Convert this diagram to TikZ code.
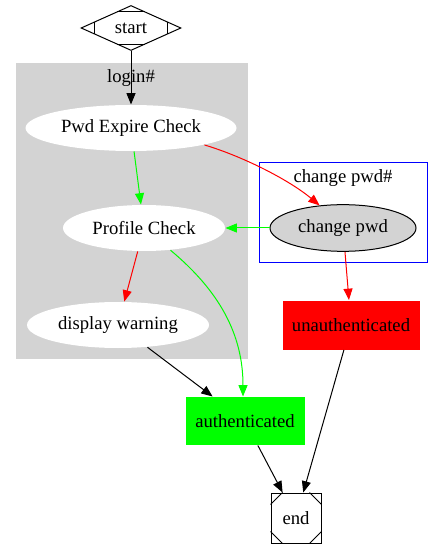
\documentclass[tikz,border=0pt]{standalone}
\usepackage{fontspec}
\setmainfont{Liberation Serif}
\usetikzlibrary{arrows.meta,shapes.geometric,calc}
\definecolor{LightGrey}{RGB}{211,211,211}
\definecolor{PureGreen}{RGB}{0,255,0}
\definecolor{PureRed}{RGB}{255,0,0}
\definecolor{PureBlue}{RGB}{0,0,255}

\begin{document}
\begin{tikzpicture}[x=0.75pt, y=-0.75pt, line width=0.75pt, >={Triangle[length=8.5pt,width=6.75pt]}, font=\fontsize{14}{17}\selectfont,
    state/.style={ellipse, inner sep=0pt, minimum height=34.5pt},
    result/.style={rectangle, inner sep=0pt, minimum height=36pt},
    link/.style={->}]
    \fill [white] (0,0) rectangle (443,548);
    \useasboundingbox (0,0) rectangle (443,548);

    % clusters
    \fill [LightGrey] (16,63) rectangle (248,359);
    \draw [PureBlue] (259,163) rectangle (427,263);
    \node (loginlbl) at (131,78) {login\#};
    \node (chglbl) at (343,178) {change pwd\#};

    \node [draw, diamond, aspect=2.2, minimum width=75pt, minimum height=33.75pt, inner sep=0pt] (start) at (131,28) {start};
    \draw ($(start.north)!0.28!(start.west)$) -- ($(start.north)!0.28!(start.east)$);
    \draw ($(start.south)!0.28!(start.west)$) -- ($(start.south)!0.28!(start.east)$);
    \draw ($(start.west)!0.28!(start.north)$) -- ($(start.west)!0.28!(start.south)$);
    \draw ($(start.east)!0.28!(start.north)$) -- ($(start.east)!0.28!(start.south)$);

    \node [state, fill=white, minimum width=158.25pt] (pwd) at (131,128) {Pwd Expire Check};
    \node [state, fill=white, minimum width=121.5pt] (prof) at (144,228) {Profile Check};
    \node [state, fill=white, minimum width=136.5pt] (warn) at (118,325) {display warning};
    \node [state, draw, fill=LightGrey, minimum width=109.5pt, minimum height=35pt] (chg) at (343,228) {change pwd};
    \node [result, fill=PureRed, minimum width=102.75pt, minimum height=36.75pt] (unauth) at (351,325) {unauthenticated};
    \node [result, fill=PureGreen, minimum width=89.25pt] (auth) at (245,421) {authenticated};

    \node [draw, rectangle, minimum size=37.5pt, inner sep=0pt] (end) at (296,518) {end};
    \draw ($(end.north west)+(0,12)$) -- ($(end.north west)+(12,0)$);
    \draw ($(end.north east)+(0,12)$) -- ($(end.north east)+(-12,0)$);
    \draw ($(end.south west)+(0,-12)$) -- ($(end.south west)+(12,0)$);
    \draw ($(end.south east)+(0,-12)$) -- ($(end.south east)+(-12,0)$);

    \draw [link] (start) -- (pwd);
    \draw [link, PureGreen] (pwd) -- (prof);
    \draw [link, PureRed] (pwd.-13) .. controls +(40,12) and +(-30,-25) .. (chg.136);
    \draw [link, PureGreen] (chg) -- (prof);
    \draw [link, PureRed] (prof) -- (warn);
    \draw [link, PureGreen] (prof.-40) .. controls +(48,40) and +(0,-63) .. ($(auth.north)+(-2,0)$);
    \draw [link] (warn) -- (auth);
    \draw [link, PureRed] (chg) -- (unauth);
    \draw [link] (auth) -- (end);
    \draw [link] (unauth) -- (end);
\end{tikzpicture}
\end{document}
